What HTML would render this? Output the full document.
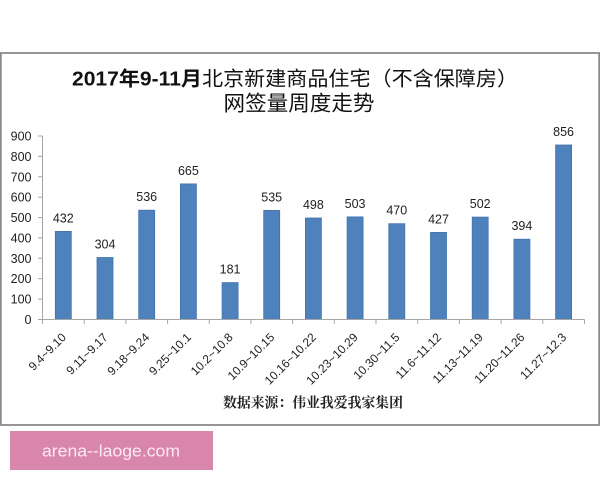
<!DOCTYPE html>
<html><head><meta charset="utf-8">
<style>
html,body{margin:0;padding:0;background:#fff;}
svg{display:block;}
</style></head>
<body>
<svg width="600" height="480" viewBox="0 0 600 480" xmlns="http://www.w3.org/2000/svg">
<rect x="0" y="0" width="600" height="480" fill="#fff"/>
<!-- chart frame -->
<rect x="0.8" y="53" width="598.4" height="372" fill="#fff" stroke="#8a8a8a" stroke-width="1.8"/>
<!-- title -->
<text x="295" y="85.5" text-anchor="middle" textLength="446" lengthAdjust="spacingAndGlyphs" font-family="'Liberation Sans','Noto Sans CJK SC',sans-serif" font-size="20" fill="#111"><tspan font-weight="bold">2017年9-11月</tspan>北京新建商品住宅（不含保障房）</text>
<text x="299" y="110.5" text-anchor="middle" textLength="151" lengthAdjust="spacingAndGlyphs" font-family="'Liberation Sans','Noto Sans CJK SC',sans-serif" font-size="21" fill="#111">网签量周度走势</text>
<!-- y axis -->
<g stroke="#a6a6a6" stroke-width="1">
<line x1="42.5" y1="136" x2="42.5" y2="319.5"/>
<line x1="38" y1="136" x2="42.5" y2="136"/>
<line x1="38" y1="156.4" x2="42.5" y2="156.4"/>
<line x1="38" y1="176.8" x2="42.5" y2="176.8"/>
<line x1="38" y1="197.2" x2="42.5" y2="197.2"/>
<line x1="38" y1="217.6" x2="42.5" y2="217.6"/>
<line x1="38" y1="237.9" x2="42.5" y2="237.9"/>
<line x1="38" y1="258.3" x2="42.5" y2="258.3"/>
<line x1="38" y1="278.7" x2="42.5" y2="278.7"/>
<line x1="38" y1="299.1" x2="42.5" y2="299.1"/>
<line x1="38" y1="319.5" x2="42.5" y2="319.5"/>
</g>
<g font-family="'Liberation Sans',sans-serif" font-size="12.5" fill="#222" text-anchor="end">
<text x="31.5" y="140.5">900</text>
<text x="31.5" y="160.9">800</text>
<text x="31.5" y="181.3">700</text>
<text x="31.5" y="201.7">600</text>
<text x="31.5" y="222.1">500</text>
<text x="31.5" y="242.4">400</text>
<text x="31.5" y="262.8">300</text>
<text x="31.5" y="283.2">200</text>
<text x="31.5" y="303.6">100</text>
<text x="31.5" y="324">0</text>
</g>
<!-- bars -->
<g fill="#4f81bd" stroke="#4372ad" stroke-width="0.8">
<rect x="55.3" y="231.4" width="16" height="88.1"/>
<rect x="97.0" y="257.5" width="16" height="62.0"/>
<rect x="138.7" y="210.2" width="16" height="109.3"/>
<rect x="180.4" y="183.9" width="16" height="135.6"/>
<rect x="222.1" y="282.6" width="16" height="36.9"/>
<rect x="263.7" y="210.4" width="16" height="109.1"/>
<rect x="305.4" y="218.0" width="16" height="101.5"/>
<rect x="347.1" y="216.9" width="16" height="102.6"/>
<rect x="388.8" y="223.7" width="16" height="95.8"/>
<rect x="430.5" y="232.4" width="16" height="87.1"/>
<rect x="472.2" y="217.1" width="16" height="102.4"/>
<rect x="513.9" y="239.2" width="16" height="80.3"/>
<rect x="555.6" y="145.0" width="16" height="174.5"/>
</g>
<!-- x axis -->
<g stroke="#a6a6a6" stroke-width="1">
<line x1="42.5" y1="319.5" x2="584.5" y2="319.5"/>
<line x1="42.5" y1="319.5" x2="42.5" y2="324"/>
<line x1="84.2" y1="319.5" x2="84.2" y2="324"/>
<line x1="125.9" y1="319.5" x2="125.9" y2="324"/>
<line x1="167.6" y1="319.5" x2="167.6" y2="324"/>
<line x1="209.3" y1="319.5" x2="209.3" y2="324"/>
<line x1="250.9" y1="319.5" x2="250.9" y2="324"/>
<line x1="292.6" y1="319.5" x2="292.6" y2="324"/>
<line x1="334.3" y1="319.5" x2="334.3" y2="324"/>
<line x1="376.0" y1="319.5" x2="376.0" y2="324"/>
<line x1="417.7" y1="319.5" x2="417.7" y2="324"/>
<line x1="459.4" y1="319.5" x2="459.4" y2="324"/>
<line x1="501.1" y1="319.5" x2="501.1" y2="324"/>
<line x1="542.8" y1="319.5" x2="542.8" y2="324"/>
<line x1="584.5" y1="319.5" x2="584.5" y2="324"/>
</g>
<!-- value labels -->
<g font-family="'Liberation Sans',sans-serif" font-size="12.5" fill="#222" text-anchor="middle">
<text x="63.3" y="222.4">432</text>
<text x="105.0" y="248.5">304</text>
<text x="146.7" y="201.2">536</text>
<text x="188.4" y="174.9">665</text>
<text x="230.1" y="273.6">181</text>
<text x="271.7" y="201.4">535</text>
<text x="313.4" y="209.0">498</text>
<text x="355.1" y="207.9">503</text>
<text x="396.8" y="214.7">470</text>
<text x="438.5" y="223.4">427</text>
<text x="480.2" y="208.1">502</text>
<text x="521.9" y="230.2">394</text>
<text x="563.6" y="136.0">856</text>
</g>
<!-- category labels -->
<g font-family="'Liberation Sans',sans-serif" font-size="12" fill="#222" text-anchor="end">
<text transform="translate(66.8,338) rotate(-45)">9.4~9.10</text>
<text transform="translate(108.5,338) rotate(-45)">9.11~9.17</text>
<text transform="translate(150.2,338) rotate(-45)">9.18~9.24</text>
<text transform="translate(191.9,338) rotate(-45)">9.25~10.1</text>
<text transform="translate(233.6,338) rotate(-45)">10.2~10.8</text>
<text transform="translate(275.2,338) rotate(-45)">10.9~10.15</text>
<text transform="translate(316.9,338) rotate(-45)">10.16~10.22</text>
<text transform="translate(358.6,338) rotate(-45)">10.23~10.29</text>
<text transform="translate(400.3,338) rotate(-45)">10.30~11.5</text>
<text transform="translate(442.0,338) rotate(-45)">11.6~11.12</text>
<text transform="translate(483.7,338) rotate(-45)">11.13~11.19</text>
<text transform="translate(525.4,338) rotate(-45)">11.20~11.26</text>
<text transform="translate(567.1,338) rotate(-45)">11.27~12.3</text>
</g>
<!-- source -->
<text x="313" y="407.5" text-anchor="middle" textLength="180" lengthAdjust="spacingAndGlyphs" font-family="'Liberation Serif','Noto Serif CJK SC',serif" font-size="14" font-weight="bold" fill="#222">数据来源：伟业我爱我家集团</text>
<!-- watermark -->
<rect x="10" y="431" width="203" height="39" fill="#d986ad"/>
<text x="111" y="456.5" text-anchor="middle" textLength="138" lengthAdjust="spacingAndGlyphs" font-family="'Liberation Sans',sans-serif" font-size="17" fill="#fbe9f2">arena--laoge.com</text>
</svg>
</body></html>
